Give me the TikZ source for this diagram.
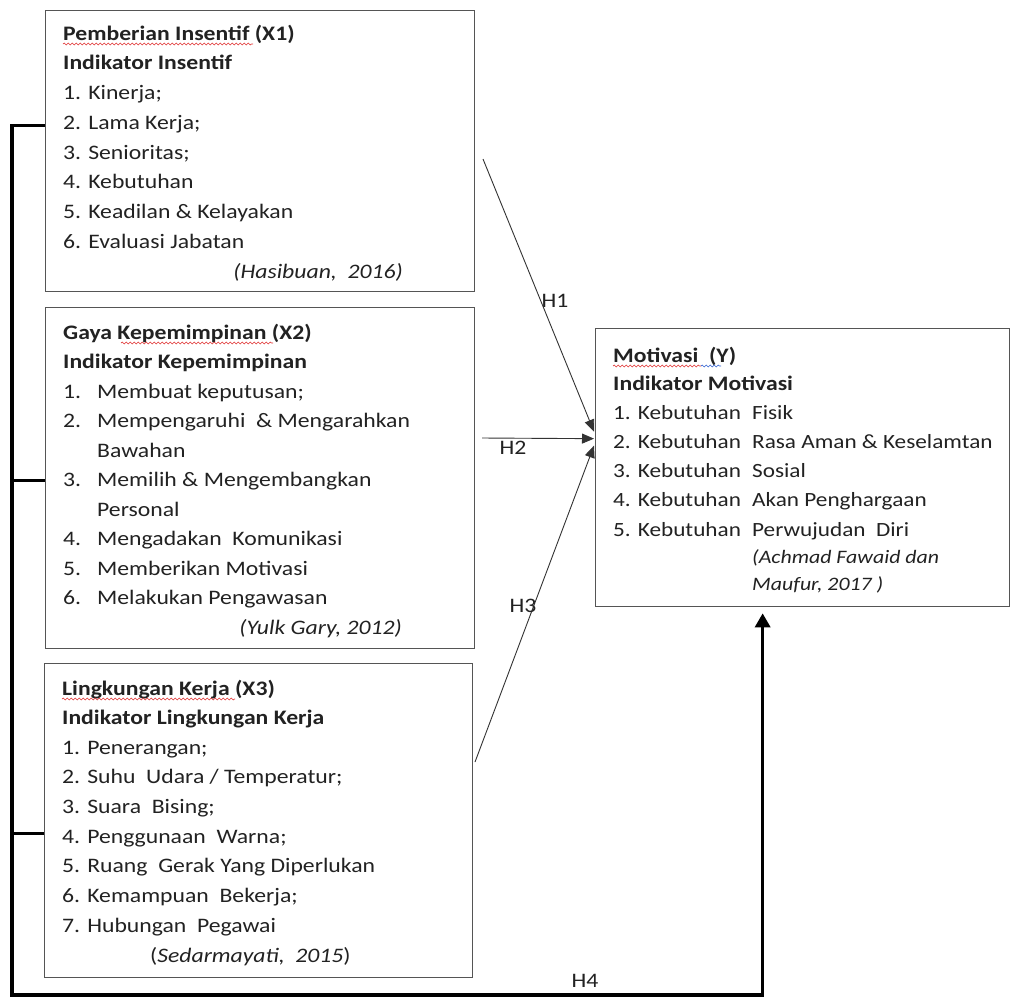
\documentclass[tikz,border=0pt]{standalone}
\usepackage{fontspec}
\setmainfont{Carlito}[FakeStretch=1.15]
\usetikzlibrary{arrows.meta,calc,decorations.pathmorphing}
\definecolor{txt}{HTML}{222222}
\definecolor{boxgray}{HTML}{555555}
\definecolor{lncol}{HTML}{333333}
\definecolor{squigred}{HTML}{E03030}
\definecolor{squigblue}{HTML}{3060D0}
\begin{document}
\begin{tikzpicture}[x=1pt,y=-1pt,
  box/.style={draw=boxgray,line width=1.3pt,anchor=north west,inner sep=0pt,fill=none},
  tx/.style={anchor=base west,inner sep=0pt,text=txt,font=\fontsize{20.6}{24}\selectfont},
  txb/.style={tx,font=\fontsize{20.6}{24}\selectfont\bfseries},
  ytx/.style={tx,font=\fontsize{20.2}{24}\selectfont},
  cite/.style={inner sep=0pt,text=txt,font=\fontsize{20.6}{24}\selectfont\itshape},
  lbl/.style={inner sep=0pt,text=txt,font=\fontsize{20.6}{24}\selectfont},
  thinarrow/.style={draw=lncol,line width=0.9pt,-{Triangle[length=12pt,width=10pt]}},
  bus/.style={draw=black,line width=3.4pt,line join=miter},
  squig/.style={draw=squigred,line width=0.6pt,decorate,decoration={snake,amplitude=0.9pt,segment length=4pt}}]
\useasboundingbox[fill=white] (0,0) rectangle (1011,997);

% ---------- boxes ----------
\node[box,minimum width=429pt,minimum height=281pt] (X1) at (45,10) {};
\node[box,minimum width=429pt,minimum height=341pt] (X2) at (45,307) {};
\node[box,minimum width=428pt,minimum height=314pt] (X3) at (44,663) {};
\node[box,minimum width=414pt,minimum height=278pt] (Y) at (595,328) {};

% ---------- X1 text ----------
\node[txb] (x1t) at (63,40) {Pemberian Insentif (X1)};
\node[txb] (x1s) at (63,69.75) {Indikator Insentif};
\foreach \t [count=\i from 0] in {{1. Kinerja;},{2. Lama Kerja;},{3. Senioritas;},{4. Kebutuhan},{5. Keadilan \& Kelayakan},{6. Evaluasi Jabatan}}
  \node[tx] (x1i\i) at (63,99.5+29.75*\i) {\t};
\node[cite,anchor=base east] (x1c) at (403,278) {(Hasibuan,\ \ 2016)};

% ---------- X2 text ----------
\node[txb] (x2t) at (63,339) {Gaya Kepemimpinan (X2)};
\node[txb] (x2s) at (63,368.5) {Indikator Kepemimpinan};
\node[tx] (x2i1) at (63,398) {\makebox[34pt][l]{1.}Membuat keputusan;};
\node[tx] (x2i2) at (63,427.5) {\makebox[34pt][l]{2.}Mempengaruhi\ \ \& Mengarahkan};
\node[tx] (x2i2b) at (97,457) {Bawahan};
\node[tx] (x2i3) at (63,486.5) {\makebox[34pt][l]{3.}Memilih \& Mengembangkan};
\node[tx] (x2i3b) at (97,516) {Personal};
\node[tx] (x2i4) at (63,545.5) {\makebox[34pt][l]{4.}Mengadakan\ \ Komunikasi};
\node[tx] (x2i5) at (63,575) {\makebox[34pt][l]{5.}Memberikan Motivasi};
\node[tx] (x2i6) at (63,604.5) {\makebox[34pt][l]{6.}Melakukan Pengawasan};
\node[cite,anchor=base east] (x2c) at (402,634) {(Yulk Gary, 2012)};

% ---------- X3 text ----------
\node[txb] (x3t) at (62,695) {Lingkungan Kerja (X3)};
\node[txb] (x3s) at (62,724.7) {Indikator Lingkungan Kerja};
\foreach \t [count=\i from 0] in {{1. Penerangan;},{2. Suhu\ \ Udara / Temperatur;},{3. Suara\ \ Bising;},{4. Penggunaan\ \ Warna;},{5. Ruang\ \ Gerak Yang Diperlukan},{6. Kemampuan\ \ Bekerja;},{7. Hubungan\ \ Pegawai}}
  \node[tx] (x3i\i) at (62,754.3+29.67*\i) {\t};
\node[tx] (x3c) at (150,962) {(\textit{Sedarmayati,\ \ 2015})};

% ---------- Y text ----------
\node[txb] (yt) at (613,362) {Motivasi\ \ (Y)};
\node[txb] (ys) at (613,390) {Indikator Motivasi};
\foreach \t/\u [count=\i from 0] in {1/Fisik,2/{Rasa Aman \& Keselamtan},3/Sosial,4/{Akan Penghargaan},5/{Perwujudan\ \ Diri}}
  \node[ytx] (yi\i) at (613,419+29.3*\i) {\makebox[139pt][l]{\t. Kebutuhan}\u};
\node[cite,anchor=base west,font=\fontsize{19}{22}\selectfont\itshape] (yc1) at (752,563) {(Achmad Fawaid dan};
\node[cite,anchor=base west,font=\fontsize{19}{22}\selectfont\itshape] (yc2) at (752,590) {Maufur, 2017 )};

% ---------- spell-check squiggles ----------
\draw[squig] ($(x1t.base west)+(0,4)$) -- ++(190,0);
\draw[squig] ($(x2t.base west)+(58,4)$) -- ++(152,0);
\draw[squig] ($(x3t.base west)+(0,4)$) -- ++(173,0);
\draw[squig] ($(yt.base west)+(0,4)$) -- ++(88,0);
\draw[squig,draw=squigblue] ($(yt.base west)+(88,4)$) -- ++(20,0);

% ---------- hypothesis arrows ----------
\coordinate (h1s) at (483,159);
\coordinate (h2s) at (482,438);
\coordinate (h3s) at (475,762);
\draw[thinarrow] (h1s) -- ($(Y.west)+(-1,-36)$);
\draw[thinarrow] (h2s) -- ($(Y.west)+(-1,-29)$);
\draw[thinarrow] (h3s) -- ($(Y.west)+(-1,-22)$);

\node[lbl] (H1) at (555,301) {H1};
\node[lbl] (H2) at (513,448) {H2};
\node[lbl] (H3) at (523,606) {H3};
\node[lbl] (H4) at (585,981) {H4};

% ---------- bus (H4) ----------
\coordinate (b1) at ($(X1.west)+(0,-25.5)$);
\coordinate (b2) at ($(X2.west)+(0,2.5)$);
\coordinate (b3) at ($(X3.west)+(0,13)$);
\coordinate (bl) at (12,995);
\coordinate (ytip) at ($(Y.south)+(-40,6)$);
\draw[bus] (b1) -| (bl) -| ($(ytip)+(0,12)$);
\draw[bus,-{Triangle[length=14pt,width=15pt]}] ($(ytip)+(0,40)$) -- (ytip);
\draw[bus] (b2) -- (b2 -| bl);
\draw[bus] (b3) -- (b3 -| bl);
\end{tikzpicture}
\end{document}
